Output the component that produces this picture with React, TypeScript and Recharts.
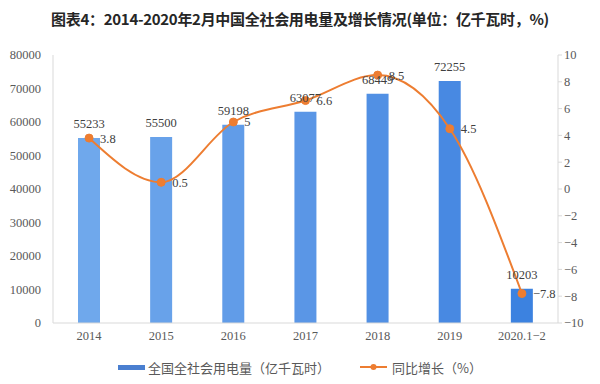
import React from 'react';
import {
    ComposedChart, Bar, Line, XAxis, YAxis, Cell, LabelList, Legend
} from 'recharts';

const categories = ['2014', '2015', '2016', '2017', '2018', '2019', '2020.1−2'];
const consumption = [55233, 55500, 59198, 63077, 68449, 72255, 10203];
const growth = [3.8, 0.5, 5, 6.6, 8.5, 4.5, -7.8];
const leftTicks = [0, 10000, 20000, 30000, 40000, 50000, 60000, 70000, 80000];
const rightTicks = [-10, -8, -6, -4, -2, 0, 2, 4, 6, 8, 10];

const BAR_COLORS = ['#6FA8EC', '#68A2EA', '#619CE8', '#5A96E6', '#5190E4', '#4889E2', '#3C82E0'];
const LINE_COLOR = '#ED7D31';
const AXIS_COLOR = '#D9D9D9';
const TEXT_COLOR = '#595959';
const NUM_FONT = '"Liberation Serif", "DejaVu Serif", serif';
const CJK_FONT = '"Noto Sans CJK SC", "Noto Sans", sans-serif';

const data = categories.map((name, i) => ({
    name,
    consumption: consumption[i],
    growth: growth[i],
}));

const minus = (v: number | string) => String(v).replace('-', '−');

const LegendContent = () => (
    <div style={{ display: 'flex', justifyContent: 'center', alignItems: 'center', fontFamily: CJK_FONT, fontSize: 13, color: TEXT_COLOR, height: 26, marginTop: 3 }}>
        <span style={{ display: 'inline-block', width: 27, height: 5, background: '#4A7FD0', marginRight: 3 }} />
        <span style={{ marginRight: 30 }}>全国全社会用电量（亿千瓦时）</span>
        <svg width={27} height={8} style={{ marginRight: 5 }}>
            <line x1={0} y1={4} x2={27} y2={4} stroke={LINE_COLOR} strokeWidth={2} />
            <circle cx={13.5} cy={4} r={3} fill={LINE_COLOR} />
        </svg>
        <span>同比增长（%）</span>
    </div>
);

export default function App() {
    return (
        <div style={{ position: 'absolute', left: 0, top: 0, width: 600, height: 384, background: '#fff' }}>
            <div style={{
                position: 'absolute', top: 8, left: 0, width: 600, textAlign: 'center',
                fontFamily: CJK_FONT, fontWeight: 700, fontSize: 15, color: '#262626', letterSpacing: -0.3
            }}>
                图表4：2014-2020年2月中国全社会用电量及增长情况(单位：亿千瓦时，%)
            </div>
            <ComposedChart width={600} height={384} data={data} margin={{ top: 55, right: 0, bottom: 7, left: 0 }}>
                <XAxis
                    dataKey="name"
                    height={28}
                    tickLine={false}
                    axisLine={{ stroke: AXIS_COLOR }}
                    tick={{ fontSize: 12.5, fill: TEXT_COLOR, fontFamily: NUM_FONT }}
                    interval={0}
                />
                <YAxis
                    yAxisId="left"
                    width={53}
                    domain={[0, 80000]}
                    ticks={leftTicks}
                    tickLine={false}
                    axisLine={{ stroke: AXIS_COLOR }}
                    tick={{ fontSize: 12.5, fill: TEXT_COLOR, fontFamily: NUM_FONT }}
                    tickMargin={6}
                />
                <YAxis
                    yAxisId="right"
                    orientation="right"
                    width={42}
                    domain={[-10, 10]}
                    ticks={rightTicks}
                    tickSize={4}
                    tickLine={{ stroke: AXIS_COLOR }}
                    axisLine={{ stroke: AXIS_COLOR }}
                    tick={{ fontSize: 12.5, fill: TEXT_COLOR, fontFamily: NUM_FONT }}
                    tickFormatter={minus}
                />
                <Bar yAxisId="left" dataKey="consumption" barSize={22} isAnimationActive={false}>
                    {data.map((entry, index) => (
                        <Cell key={`cell-${index}`} fill={BAR_COLORS[index % BAR_COLORS.length]} />
                    ))}
                    <LabelList dataKey="consumption" position="top" offset={10} fill="#404040" fontSize={12.5} fontFamily={NUM_FONT} />
                </Bar>
                <Line
                    yAxisId="right"
                    type="monotone"
                    dataKey="growth"
                    stroke={LINE_COLOR}
                    strokeWidth={2}
                    dot={{ r: 4, fill: LINE_COLOR, stroke: LINE_COLOR, strokeWidth: 1 }}
                    activeDot={false}
                    isAnimationActive={false}
                >
                    <LabelList dataKey="growth" position="right" offset={11} fill="#404040" fontSize={12.5} fontFamily={NUM_FONT} formatter={minus} />
                </Line>
                <Legend verticalAlign="bottom" height={26} content={<LegendContent />} />
            </ComposedChart>
        </div>
    );
}
